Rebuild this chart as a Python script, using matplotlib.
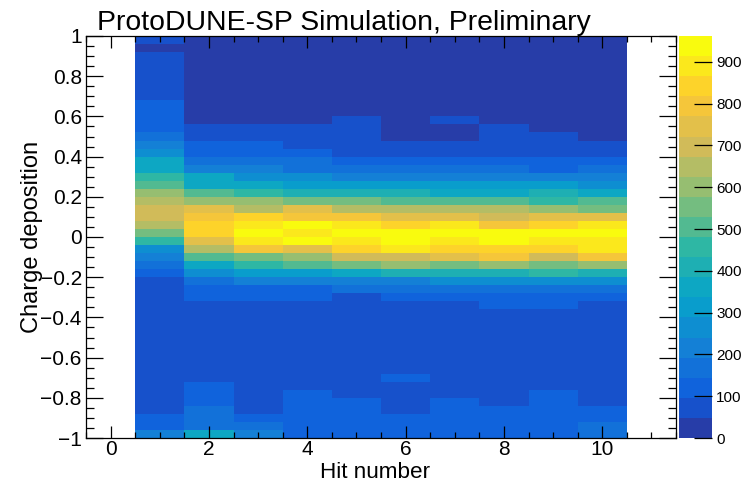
import numpy as np
import matplotlib
matplotlib.use('Agg')
import matplotlib.pyplot as plt
from matplotlib.colors import ListedColormap, BoundaryNorm, LinearSegmentedColormap
from matplotlib.ticker import MultipleLocator, FuncFormatter

plt.rcParams['font.family'] = ['Liberation Sans', 'DejaVu Sans']

# hit number bins (centres 1..10) and charge deposition bins (50 from -1 to 1)
hit_edges = [0.5, 1.5, 2.5, 3.5, 4.5, 5.5, 6.5, 7.5, 8.5, 9.5, 10.5]
n_charge_bins = 50

# counts per hit number, listed from charge = -1 upwards
hit1 = [215, 120, 120,
        70, 72, 68, 66, 70, 71, 69, 67, 70, 73, 70, 68, 72, 70, 69, 74, 78,
        120, 170, 215, 265, 455, 555, 650, 700, 700, 650, 600, 505, 455, 360, 360, 265, 215, 170,
        120, 125, 118, 110,
        85, 80, 82, 80, 78, 76,
        30, 60]
hit2 = [360, 170, 175, 165, 120, 115, 110,
        75, 72, 70, 68, 66, 70, 72, 74, 78, 85,
        120, 130, 175, 265, 360, 505, 650, 745, 845, 850, 795, 745, 600, 505, 365, 355, 215, 170, 125, 115, 80, 60,
        25, 20, 18, 16, 15, 14, 14, 13, 13, 12, 12]
hit3 = [215, 170, 120,
        72, 70, 68, 70, 66, 68, 70, 72, 70, 68, 71, 74, 78, 82,
        120, 130, 215, 315, 455, 555, 795, 890, 955, 885, 845, 650, 600, 455, 360, 265, 215, 170, 125, 110, 80, 60,
        22, 18, 16, 15, 14, 13, 12, 12, 11, 11, 10]
hit4 = [118, 122, 115, 110, 105, 100,
        78, 75, 72, 70, 68, 68, 70, 72, 74, 76, 80,
        120, 130, 215, 315, 505, 600, 745, 962, 890, 940, 795, 745, 555, 410, 315, 265, 170, 165, 120, 90, 75, 60,
        24, 20, 18, 16, 15, 14, 13, 13, 12, 12, 11]
hit5 = [115, 120, 118, 112, 108,
        80, 76, 74, 72, 70, 70, 68, 70, 72, 74, 76, 80, 90,
        170, 215, 360, 555, 700, 845, 890, 945, 885, 795, 650, 555, 410, 315, 215, 170, 120,
        92, 85, 75, 65, 55,
        22, 20, 18, 16, 15, 14, 13, 12, 12, 11]
hit6 = [112, 118, 105,
        80, 85, 82, 78,
        100,
        75, 72, 70, 70, 68, 70, 72, 74, 80,
        120, 170, 215, 410, 600, 700, 890, 945, 950, 845, 745, 650, 505, 410, 315, 215, 170, 120, 85, 60,
        40, 35, 30, 26, 22, 20, 18, 16, 15, 14, 13, 12, 12]
hit7 = [110, 118, 122, 115, 105,
        78, 76, 74, 72, 70, 70, 68, 70, 72, 72, 76, 82,
        120, 170, 265, 410, 555, 745, 845, 890, 940, 885, 745, 650, 505, 360, 315, 215, 170, 120, 80, 62,
        45, 40, 52,
        22, 20, 18, 16, 15, 14, 13, 12, 12, 11]
hit8 = [108, 115, 120, 112,
        76, 74, 72, 70, 70, 68, 68, 70, 72, 74, 78, 82,
        105, 125, 170, 265, 410, 600, 795, 845, 950, 945, 795, 700, 650, 505, 360, 315, 215, 170, 120,
        88, 80, 70, 60,
        24, 20, 18, 16, 15, 14, 13, 12, 12, 11, 11]
hit9 = [110, 115, 120, 125, 118, 112,
        78, 74, 72, 70, 70, 68, 70, 72, 76, 80,
        105, 125, 170, 265, 455, 555, 700, 845, 890, 945, 845, 745, 600, 455, 410, 315, 215, 130, 110,
        85, 75, 60,
        42, 30, 26, 22, 20, 18, 16, 15, 14, 13, 12, 12]
hit10 = [170, 175, 120, 115,
         80, 76, 74, 72, 70, 70, 68, 68, 70, 72, 74, 78, 84,
         120, 170, 265, 410, 600, 795, 890, 885, 945, 890, 745, 555, 505, 360, 265, 215, 170, 120, 88, 62,
         40, 34, 30, 26, 22, 20, 18, 16, 15, 14, 13, 12, 12]

cbar_ticks = [0, 100, 200, 300, 400, 500, 600, 700, 800, 900]

counts = np.array([hit1, hit2, hit3, hit4, hit5, hit6, hit7, hit8, hit9, hit10], dtype=float)
charge_edges = np.linspace(-1, 1, n_charge_bins + 1)

# ROOT "bird" palette, 20 contour levels picked the way TH2 COLZ does
stops = [0.0, 0.125, 0.25, 0.375, 0.5, 0.625, 0.75, 0.875, 1.0]
red = [0.2082, 0.0592, 0.0780, 0.0232, 0.1802, 0.5301, 0.8186, 0.9956, 0.9764]
green = [0.1664, 0.3599, 0.5041, 0.6419, 0.7178, 0.7492, 0.7328, 0.7862, 0.9832]
blue = [0.5293, 0.8684, 0.8385, 0.7914, 0.6425, 0.4662, 0.3499, 0.1968, 0.0539]
bird = LinearSegmentedColormap.from_list(
    'bird', list(zip(stops, zip(red, green, blue))), N=255)
ndiv = 20
idx = [int((i + 0.99) * 255 / ndiv) for i in range(ndiv)]
cmap = ListedColormap([bird(min(k, 254)) for k in idx])
levels = np.linspace(0, counts.max(), ndiv + 1)
norm = BoundaryNorm(levels, ndiv)

fig = plt.figure(figsize=(7.49, 4.84), dpi=100)
ax = fig.add_axes([86 / 749, 46 / 484, 590 / 749, 402 / 484])
cax = fig.add_axes([679 / 749, 46 / 484, 33 / 749, 402 / 484])

mesh = ax.pcolormesh(hit_edges, charge_edges, counts.T, cmap=cmap, norm=norm)
ax.set_xlim(-0.5, 11.5)
ax.set_ylim(-1, 1)

ax.xaxis.set_major_locator(MultipleLocator(2))
ax.xaxis.set_minor_locator(MultipleLocator(0.5))
ax.yaxis.set_major_locator(MultipleLocator(0.2))
ax.yaxis.set_minor_locator(MultipleLocator(0.05))


def fmt(v, pos):
    v = round(v, 3)
    if abs(v) < 1e-9:
        return '0'
    return ('%g' % v).replace('-', '\u2212')


ax.xaxis.set_major_formatter(FuncFormatter(fmt))
ax.yaxis.set_major_formatter(FuncFormatter(fmt))
ax.tick_params(which='both', direction='in', top=True, right=True, width=0.9, labelsize=15)
ax.tick_params(axis='x', which='major', length=8.6, pad=1.5)
ax.tick_params(axis='x', which='minor', length=4.3)
ax.tick_params(axis='y', which='major', length=12.2, pad=3)
ax.tick_params(axis='y', which='minor', length=6.1)
for s in ax.spines.values():
    s.set_linewidth(0.9)

cbar = fig.colorbar(mesh, cax=cax, ticks=cbar_ticks, spacing='proportional')
cbar.outline.set_visible(False)
cax.tick_params(direction='in', length=13, width=0.9, labelsize=11, pad=3)
cax.minorticks_off()

fig.text(97 / 749, 1 - 30 / 484, 'ProtoDUNE-SP Simulation, Preliminary', fontsize=20.4,
         ha='left', va='baseline')
fig.text(375 / 749, 0.6 / 484, 'Hit number', fontsize=16.2, ha='center', va='bottom')
fig.text(32 / 749, 1 - 237 / 484, 'Charge deposition', fontsize=17, rotation=90,
         ha='center', va='center')

fig.savefig('out.png', dpi=100)
